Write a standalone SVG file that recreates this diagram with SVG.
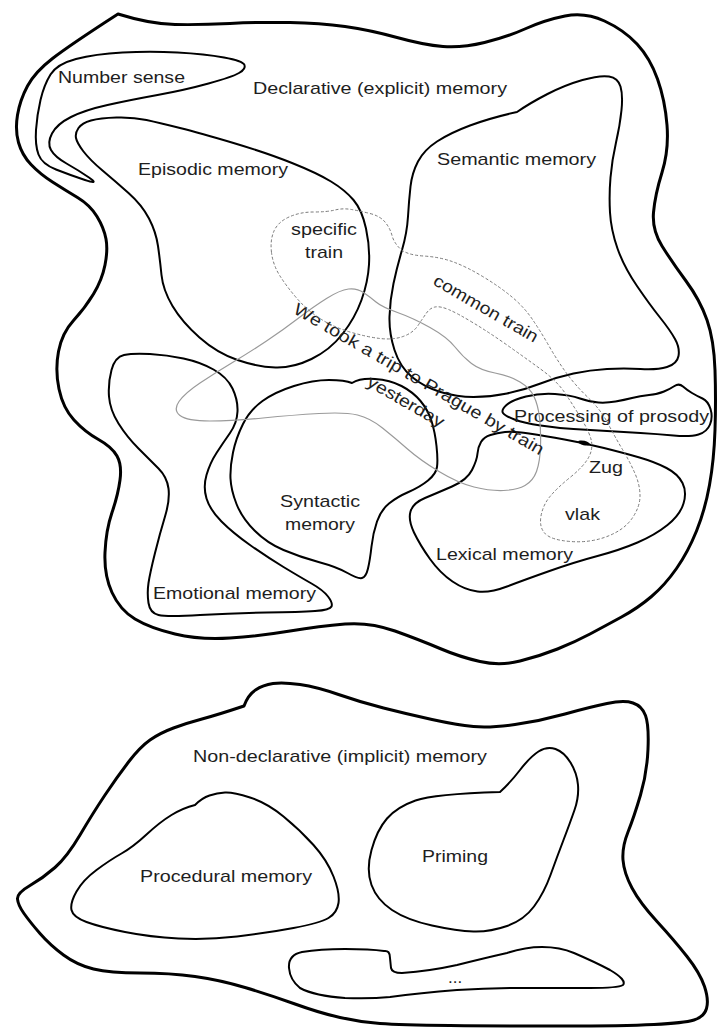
<svg xmlns="http://www.w3.org/2000/svg" width="717" height="1028" viewBox="0 0 717 1028">
<style>
.outer{fill:none;stroke:#000;stroke-width:3;stroke-linejoin:round}
.reg{fill:none;stroke:#000;stroke-width:2;stroke-linejoin:round}
.gray{fill:none;stroke:#9a9a9a;stroke-width:1.2}
.dash{fill:none;stroke:#7a7a7a;stroke-width:1;stroke-dasharray:3 2}
text{font-family:"Liberation Sans",Arial,sans-serif;font-size:17px;fill:#1e1e1e}
</style>
<rect width="717" height="1028" fill="#fff"/>

<g id="declarative">
<path class="outer" d="M118,14 Q150,24 175,24.5 Q200,25 230,23.5 Q260,22 290,22.5 Q320,23 345,26.5 Q370,30 397,37.5 Q424,45 443,46.5 Q462,48 484.5,42.5 Q507,37 526,28.5 Q545,20 565,16 Q585,12 604.5,21 Q624,30 637,44 Q650,58 657.5,79 Q665,100 667,125 Q669,150 662,172.5 Q655,195 653.5,212.5 Q652,230 662,246 Q672,262 686,281 Q700,300 707,320 Q714,340 715,370 Q716,400 715,430 Q714,460 709.5,485 Q705,510 696.5,531 Q688,552 676.5,568.5 Q665,585 651.5,596.5 Q638,608 621.5,617 Q605,626 590,634 Q575,642 557.5,649 Q540,656 520,661 Q500,666 480,661.5 Q460,657 440,648.5 Q420,640 395,631 Q370,622 345,624 Q320,626 290,631 Q260,636 230,638 Q200,640 175,634 Q150,628 135,619 Q120,610 112,592.5 Q104,575 105,552.5 Q106,530 112,512.5 Q118,495 120,480 Q122,465 117,456 Q112,447 98.5,439.5 Q85,432 74,420 Q63,408 59,389 Q55,370 58.5,351.5 Q62,333 73.5,320.5 Q85,308 93.5,294 Q102,280 105,265 Q108,250 106,239 Q104,228 97,216.5 Q90,205 77.5,197.5 Q65,190 52.5,182 Q40,174 31,164.5 Q22,155 18.5,142.5 Q15,130 17.5,115 Q20,100 27.5,86 Q35,72 52.5,58.5 Q70,45 118,14 Z"/>
<text x="253" y="94" textLength="254" lengthAdjust="spacingAndGlyphs">Declarative (explicit) memory</text>
</g>

<g id="number-sense">
<path class="reg" d="M89,177.5 Q100,185 85,180 Q70,175 56,169.5 Q42,164 38.5,154.5 Q35,145 36,130 Q37,115 40.5,100 Q44,85 50.5,74.5 Q57,64 76,59 Q95,54 122.5,52.5 Q150,51 177.5,52.5 Q205,54 224,57.5 Q243,61 244.5,65 Q246,69 239,73 Q232,77 208.5,83.5 Q185,90 157.5,95 Q130,100 107.5,105 Q85,110 71,117 Q57,124 52,133.5 Q47,143 51,150 Q55,157 66.5,163.5 Q78,170 89,177.5 Z"/>
<text x="58" y="83" textLength="127" lengthAdjust="spacingAndGlyphs">Number sense</text>
</g>

<g id="episodic">
<path class="reg" d="M76,138 Q75,133 78.5,128 Q82,123 91,120.5 Q100,118 116.5,117.5 Q133,117 146.5,120 Q160,123 180,128 Q200,133 233.5,143 Q267,153 292,163 Q317,173 331,181.5 Q345,190 353.5,200 Q362,210 366,228.5 Q370,247 369,264.5 Q368,282 361.5,300 Q355,318 342.5,334 Q330,350 311.5,359 Q293,368 275.5,367.5 Q258,367 237.5,360 Q217,353 199.5,337.5 Q182,322 172.5,306 Q163,290 161.5,275 Q160,260 158,246 Q156,232 149,218.5 Q142,205 128.5,193 Q115,181 102.5,170.5 Q90,160 83.5,151.5 Q77,143 76,138 Z"/>
<text x="138" y="175" textLength="150" lengthAdjust="spacingAndGlyphs">Episodic memory</text>
</g>

<g id="semantic">
<path class="reg" d="M410.5,186.5 Q412,173 418,161.5 Q424,150 437,141.5 Q450,133 470,125.5 Q490,118 517,112 Q530,103 547.5,94 Q565,85 582.5,80 Q600,75 609,76.5 Q618,78 620.5,86.5 Q623,95 621.5,110 Q620,125 616,142.5 Q612,160 610.5,177.5 Q609,195 610,212.5 Q611,230 617.5,248.5 Q624,267 637,286 Q650,305 660,317.5 Q670,330 675,339 Q680,348 678.5,356 Q677,364 667,367 Q657,370 640.5,369 Q624,368 607,369 Q590,370 573.5,373.5 Q557,377 540.5,383.5 Q524,390 507,393.5 Q490,397 473.5,397 Q457,397 440.5,392 Q424,387 412,377 Q400,367 394.5,350 Q389,333 389.5,316.5 Q390,300 393.5,283.5 Q397,267 402,250 Q407,233 408,216.5 Q409,200 410.5,186.5 Z"/>
<text x="437" y="165" textLength="159" lengthAdjust="spacingAndGlyphs">Semantic memory</text>
</g>

<g id="emotional">
<path class="reg" d="M111.5,370 Q115,357 124,355 Q133,353 150,354 Q167,355 183.5,358.5 Q200,362 213.5,369.5 Q227,377 232.5,388.5 Q238,400 237.5,411.5 Q237,423 230,433 Q223,443 216.5,453 Q210,463 206.5,475 Q203,487 206.5,498.5 Q210,510 221.5,521.5 Q233,533 250,545 Q267,557 283.5,567 Q300,577 311.5,583.5 Q323,590 328,596.5 Q333,603 331.5,606.5 Q330,610 315,611 Q300,612 266.5,612.5 Q233,613 200,615 Q167,617 158.5,615 Q150,613 148.5,603 Q147,593 148.5,583 Q150,573 155,553 Q160,533 165,516.5 Q170,500 168.5,488.5 Q167,477 158.5,468.5 Q150,460 138.5,448.5 Q127,437 118.5,423.5 Q110,410 109,396.5 Q108,383 111.5,370 Z"/>
<text x="153" y="599" textLength="163" lengthAdjust="spacingAndGlyphs">Emotional memory</text>
</g>

<g id="syntactic">
<path class="reg" d="M230.5,478.5 Q230,467 233,452.5 Q236,438 243,424 Q250,410 262.5,401 Q275,392 294,386 Q313,380 329,380 Q345,380 352,383 Q360,378 375,379 Q390,380 401.5,386 Q413,392 420.5,401 Q428,410 431.5,421 Q435,432 436.5,446 Q438,460 437,467 Q436,474 428,480.5 Q420,487 408.5,492 Q397,497 389,503.5 Q381,510 377,521.5 Q373,533 371.5,546.5 Q370,560 368,568.5 Q366,577 362,578 Q358,579 347.5,573 Q337,567 318.5,562 Q300,557 283.5,550 Q267,543 254.5,530.5 Q242,518 236.5,504 Q231,490 230.5,478.5 Z"/>
<text x="320" y="507" text-anchor="middle" textLength="80" lengthAdjust="spacingAndGlyphs">Syntactic</text>
<text x="320" y="530" text-anchor="middle" textLength="70" lengthAdjust="spacingAndGlyphs">memory</text>
</g>

<g id="prosody">
<path class="reg" d="M503,413 Q501,410 506.5,405 Q512,400 526,396.5 Q540,393 555,394 Q570,395 580,398.5 Q590,402 598.5,402.5 Q607,403 615.5,401.5 Q624,400 632,398 Q640,396 649,395 Q658,394 664,391.5 Q670,389 674.5,386 Q679,383 683,386.5 Q687,390 692,393 Q697,396 702.5,398.5 Q708,401 710.5,409 Q713,417 710,424.5 Q707,432 698.5,434.5 Q690,437 673.5,435.5 Q657,434 640.5,433 Q624,432 607,431 Q590,430 573.5,429 Q557,428 540.5,425.5 Q524,423 514.5,419.5 Q505,416 503,413 Z"/>
<text x="514" y="422" textLength="195" lengthAdjust="spacingAndGlyphs">Processing of prosody</text>
</g>

<g id="lexical">
<path class="reg" d="M481,442 Q484,437 490.5,435 Q497,433 505,432 Q513,431 529,433.5 Q545,436 564.5,439.5 Q584,443 604,448 Q624,453 639.5,457.5 Q655,462 666.5,468 Q678,474 682.5,483 Q687,492 683.5,503.5 Q680,515 667.5,525 Q655,535 637.5,542.5 Q620,550 597.5,556 Q575,562 549.5,571 Q524,580 507,586.5 Q490,593 477.5,591.5 Q465,590 452.5,581.5 Q440,573 430,559 Q420,545 414,532.5 Q408,520 410.5,511.5 Q413,503 425,498 Q437,493 452,486.5 Q467,480 472,470 Q477,460 477.5,453.5 Q478,447 481,442 Z"/>
<ellipse cx="584" cy="443" rx="6" ry="2.2" transform="rotate(14 584 443)" fill="#000"/>
<text x="436" y="560" textLength="137" lengthAdjust="spacingAndGlyphs">Lexical memory</text>
</g>

<g id="sentence">
<path class="gray" d="M180,415.5 Q173,410 179,401.5 Q185,393 200,383 Q215,373 232.5,362.5 Q250,352 266.5,341 Q283,330 298,318.5 Q313,307 326.5,298.5 Q340,290 348.5,289 Q357,288 363.5,292.5 Q370,297 376,302 Q382,307 397.5,312.5 Q413,318 430,327.5 Q447,337 455,347 Q463,357 471.5,363.5 Q480,370 495,373 Q510,376 520,382 Q530,388 534,396.5 Q538,405 539.5,417.5 Q541,430 540.5,446 Q540,462 536.5,471.5 Q533,481 525,485.5 Q517,490 503.5,490.5 Q490,491 474,487 Q458,483 439,471.5 Q420,460 407.5,449 Q395,438 382.5,428 Q370,418 357.5,415 Q345,412 319,413.5 Q293,415 263,418 Q233,421 210,421 Q187,421 180,415.5 Z"/>
<g transform="translate(416,384) rotate(30)">
<text x="0" y="0" text-anchor="middle" textLength="286" lengthAdjust="spacingAndGlyphs">We took a trip to Prague by train</text>
<text x="0" y="26" text-anchor="middle" textLength="86" lengthAdjust="spacingAndGlyphs">yesterday</text>
</g>
</g>

<g id="train-concepts">
<path class="dash" d="M271.5,252.5 Q270,240 274,231 Q278,222 289,217 Q300,212 313.5,212 Q327,212 335,210 Q343,208 351.5,209.5 Q360,211 370,213.5 Q380,216 385,222 Q390,228 392,235.5 Q394,243 400.5,249 Q407,255 423.5,256 Q440,257 453.5,262 Q467,267 483.5,277 Q500,287 512,297 Q524,307 532.5,319.5 Q541,332 549,346 Q557,360 566,372.5 Q575,385 588,397.5 Q601,410 608,423.5 Q615,437 622.5,449.5 Q630,462 635,473.5 Q640,485 640,496 Q640,507 632,518.5 Q624,530 607,536.5 Q590,543 570.5,541.5 Q551,540 545,533.5 Q539,527 541,516 Q543,505 550,496.5 Q557,488 570,477.5 Q583,467 588,458.5 Q593,450 591.5,441.5 Q590,433 581.5,419 Q573,405 565,393 Q557,381 540.5,369 Q524,357 507,345 Q490,333 473.5,323 Q457,313 448.5,309.5 Q440,306 435,307 Q430,308 426.5,313 Q423,318 418,325.5 Q413,333 403,336.5 Q393,340 380,338.5 Q367,337 350,332 Q333,327 320,318.5 Q307,310 297,298.5 Q287,287 280,276 Q273,265 271.5,252.5 Z"/>
<text x="324" y="235" text-anchor="middle" textLength="66" lengthAdjust="spacingAndGlyphs">specific</text>
<text x="324" y="258" text-anchor="middle" textLength="38" lengthAdjust="spacingAndGlyphs">train</text>
<text transform="translate(432,284) rotate(30)" textLength="118" lengthAdjust="spacingAndGlyphs">common train</text>
<text x="589" y="473" textLength="34" lengthAdjust="spacingAndGlyphs">Zug</text>
<text x="565" y="520" textLength="35" lengthAdjust="spacingAndGlyphs">vlak</text>
</g>

<g id="non-declarative">
<path class="outer" d="M17.5,899 Q17,893 30,885.5 Q43,878 55,867.5 Q67,857 80,835 Q93,813 105,795 Q117,777 128.5,762 Q140,747 150,740 Q160,733 173.5,728 Q187,723 202,719 Q217,715 244,706 Q248,695 255.5,690 Q263,685 273,683.5 Q283,682 300,684.5 Q317,687 338.5,694.5 Q360,702 383.5,708 Q407,714 432,719.5 Q457,725 473.5,726.5 Q490,728 515,724.5 Q540,721 565,714 Q590,707 607,703.5 Q624,700 633,703 Q642,706 645.5,715.5 Q649,725 648,749 Q647,773 640.5,795 Q634,817 628,832 Q622,847 623,860 Q624,873 632,888 Q640,903 657,921.5 Q674,940 687,956.5 Q700,973 704.5,986.5 Q709,1000 706.5,1008.5 Q704,1017 694,1020 Q684,1023 654,1024.5 Q624,1026 562,1026 Q500,1026 450,1025.5 Q400,1025 380,1023.5 Q360,1022 340,1017.5 Q320,1013 295,1004 Q270,995 245,987.5 Q220,980 195,976.5 Q170,973 140,973 Q110,973 93.5,969 Q77,965 63.5,955 Q50,945 40,933.5 Q30,922 24,913.5 Q18,905 17.5,899 Z"/>
<text x="193" y="762" textLength="294" lengthAdjust="spacingAndGlyphs">Non-declarative (implicit) memory</text>
</g>

<g id="procedural">
<path class="reg" d="M71.5,910 Q70,903 76.5,891.5 Q83,880 96.5,870 Q110,860 121.5,853.5 Q133,847 146.5,834.5 Q160,822 171.5,815 Q183,808 195,805 Q202,798 209.5,795.5 Q217,793 225,792.5 Q233,792 250,797.5 Q267,803 283.5,816.5 Q300,830 313.5,845 Q327,860 333.5,876.5 Q340,893 338.5,903 Q337,913 328.5,918 Q320,923 293.5,928 Q267,933 237,936.5 Q207,940 178.5,938.5 Q150,937 125,932 Q100,927 86.5,922 Q73,917 71.5,910 Z"/>
<text x="140" y="882" textLength="172" lengthAdjust="spacingAndGlyphs">Procedural memory</text>
</g>

<g id="priming">
<path class="reg" d="M371.5,885 Q366,870 371.5,850 Q377,830 387,818.5 Q397,807 415.5,800.5 Q434,794 500,792 Q510,783 520,770 Q530,757 538.5,751.5 Q547,746 555.5,749 Q564,752 570.5,762.5 Q577,773 578,785 Q579,797 574.5,810 Q570,823 563.5,840 Q557,857 550.5,875 Q544,893 534,906.5 Q524,920 507,926 Q490,932 473.5,931.5 Q457,931 432,925.5 Q407,920 392,910 Q377,900 371.5,885 Z"/>
<text x="422" y="862" textLength="66" lengthAdjust="spacingAndGlyphs">Priming</text>
</g>

<g id="other">
<path class="reg" d="M289,968 Q288,955 302,952 Q320,949 345,949 Q370,949 384,951 Q390,950 390,958 L391,968 Q392,973 402,973 Q430,971 457,965 Q485,958 507,953 Q525,947 542,947 Q560,947 574,953 Q595,962 610,970 Q627,980 623,985 Q618,988 590,988 L524,988 Q490,988 457,990 Q420,993 390,997 Q370,999 345,998 Q315,996 300,988 Q290,980 289,968 Z"/>
<text x="448" y="983">...</text>
</g>
</svg>
